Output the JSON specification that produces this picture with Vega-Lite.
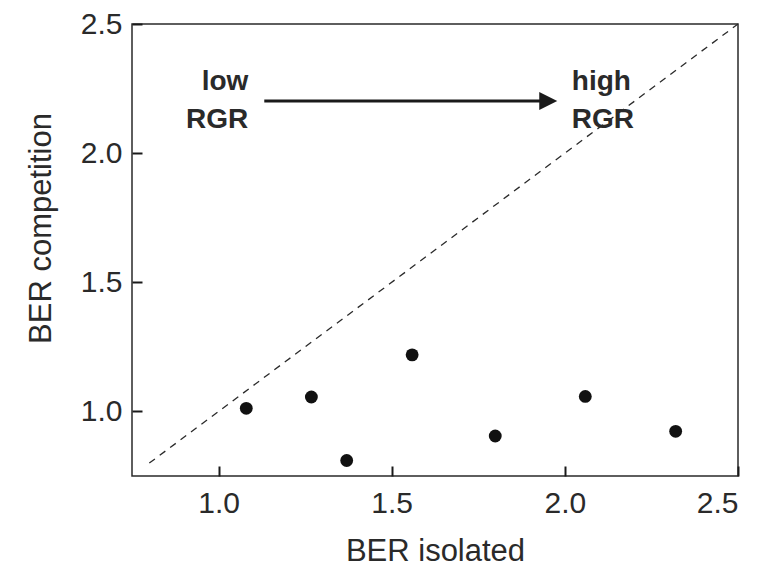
{
  "$schema": "https://vega.github.io/schema/vega-lite/v6.json",
  "width": 606,
  "height": 452,
  "autosize": {"type": "none"},
  "padding": {"left": 132, "top": 24, "right": 24, "bottom": 93},
  "background": "white",
  "config": {
    "font": "Liberation Sans",
    "view": {"stroke": "#2a2a2a", "strokeWidth": 1.5},
    "axis": {
      "grid": false,
      "domain": false,
      "ticks": true,
      "zindex": 1,
      "tickColor": "#1a1a1a",
      "tickWidth": 2,
      "tickSize": 10,
      "labelFont": "Liberation Sans",
      "labelFontSize": 30,
      "labelColor": "#2a2a2a",
      "titleFont": "Liberation Sans",
      "titleFontSize": 31,
      "titleFontWeight": "normal",
      "titleColor": "#2a2a2a"
    }
  },
  "datasets": {
    "points": [
      {"ber_isolated": 1.08, "ber_competition": 1.012},
      {"ber_isolated": 1.268, "ber_competition": 1.056},
      {"ber_isolated": 1.37, "ber_competition": 0.81},
      {"ber_isolated": 1.559, "ber_competition": 1.219},
      {"ber_isolated": 1.799, "ber_competition": 0.905},
      {"ber_isolated": 2.059, "ber_competition": 1.058},
      {"ber_isolated": 2.32, "ber_competition": 0.923}
    ],
    "identity": [{"x": 0.8, "y": 0.8, "x2": 2.5, "y2": 2.5}],
    "arrow": [{"x": 1.132, "x2": 1.93, "y": 2.202}],
    "arrowhead": [{"x": 1.952, "y": 2.202}],
    "low": [{"x": 1.086, "y": 2.277, "label": "low"}, {"x": 1.086, "y": 2.129, "label": "RGR"}],
    "high": [{"x": 2.02, "y": 2.277, "label": "high"}, {"x": 2.02, "y": 2.129, "label": "RGR"}]
  },
  "layer": [
    {
      "data": {"name": "identity"},
      "mark": {"type": "rule", "strokeDash": [7, 6], "strokeWidth": 1.3, "color": "#2a2a2a"},
      "encoding": {
        "x": {"field": "x", "type": "quantitative", "scale": {"domain": [0.75, 2.5], "nice": false, "zero": false},
          "axis": {"values": [1.0, 1.5, 2.0, 2.5], "format": ".1f", "title": "BER isolated", "offset": -10, "labelPadding": 12, "titleBaseline": "alphabetic", "titleY": 94}},
        "y": {"field": "y", "type": "quantitative", "scale": {"domain": [0.75, 2.5], "nice": false, "zero": false},
          "axis": {"values": [1.0, 1.5, 2.0, 2.5], "format": ".1f", "title": "BER competition", "offset": -10, "labelPadding": 10, "titleBaseline": "alphabetic", "titleX": -92, "titleY": 204}},
        "x2": {"field": "x2"},
        "y2": {"field": "y2"}
      }
    },
    {
      "data": {"name": "points"},
      "mark": {"type": "point", "shape": "circle", "filled": true, "size": 165, "color": "#111111", "opacity": 1},
      "encoding": {
        "x": {"field": "ber_isolated", "type": "quantitative"},
        "y": {"field": "ber_competition", "type": "quantitative"}
      }
    },
    {
      "data": {"name": "arrow"},
      "mark": {"type": "rule", "strokeWidth": 3, "color": "#1a1a1a"},
      "encoding": {
        "x": {"field": "x", "type": "quantitative"},
        "x2": {"field": "x2"},
        "y": {"field": "y", "type": "quantitative"}
      }
    },
    {
      "data": {"name": "arrowhead"},
      "mark": {"type": "point", "shape": "M-1,-1L1,0L-1,1Z", "filled": true, "size": 324, "color": "#1a1a1a", "opacity": 1},
      "encoding": {
        "x": {"field": "x", "type": "quantitative"},
        "y": {"field": "y", "type": "quantitative"}
      }
    },
    {
      "data": {"name": "low"},
      "mark": {"type": "text", "align": "right", "baseline": "middle", "fontSize": 28, "fontWeight": "bold", "color": "#2a2a2a"},
      "encoding": {
        "x": {"field": "x", "type": "quantitative"},
        "y": {"field": "y", "type": "quantitative"},
        "text": {"field": "label"}
      }
    },
    {
      "data": {"name": "high"},
      "mark": {"type": "text", "align": "left", "baseline": "middle", "fontSize": 28, "fontWeight": "bold", "color": "#2a2a2a"},
      "encoding": {
        "x": {"field": "x", "type": "quantitative"},
        "y": {"field": "y", "type": "quantitative"},
        "text": {"field": "label"}
      }
    }
  ]
}
